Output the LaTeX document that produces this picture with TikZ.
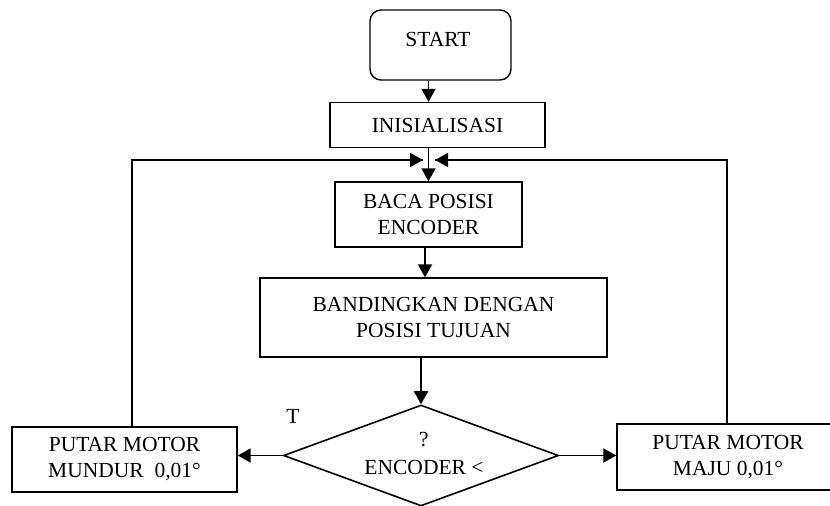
\documentclass[tikz,border=0pt]{standalone}
\usepackage{fontspec}
\setmainfont{Liberation Serif}
\usetikzlibrary{shapes.geometric,arrows.meta}
\begin{document}
\begin{tikzpicture}[x=1pt,y=-1pt,
  box/.style={draw,line width=1.4pt,inner sep=0pt,align=center,font=\fontsize{21.5}{26}\selectfont},
  txt/.style={inner sep=0pt,align=center,font=\fontsize{21.5}{26}\selectfont},
  arr/.style={line width=1.9pt,-{Triangle[length=13pt,width=14pt]}},
  ln/.style={line width=1.7pt}]
\useasboundingbox (0,0) rectangle (830,506);
\clip (0,0) rectangle (830,506);
\node[box,rounded corners=11pt,minimum width=141,minimum height=70] (start) at (440.5,45) {};
\node[txt] (starttxt) at (438,39) {START};
\node[box,minimum width=215,minimum height=45] (ini) at (437.5,125) {INISIALISASI};
\node[box,minimum width=187,minimum height=65] (baca) at (428.5,214.5) {BACA POSISI\\ENCODER};
\node[box,minimum width=347,minimum height=79] (band) at (433.5,317.5) {BANDINGKAN DENGAN\\POSISI TUJUAN};
\node[draw,diamond,line width=1.6pt,minimum width=275,minimum height=101,inner sep=0pt] (dec) at (421,455.5) {};
\node[txt] (q) at (424,440) {?};
\node[txt] (enc) at (424,467) {ENCODER <};
\node[txt] (t) at (293,416) {T};
\node[box,minimum width=225,minimum height=65] (left) at (124.5,459.5) {PUTAR MOTOR\\MUNDUR\ \ 0,01°};
\node[box,minimum width=230,minimum height=66] (right) at (732,457) {};
\node[txt] (righttxt) at (728,457) {PUTAR MOTOR\\MAJU 0,01°};
\coordinate (lj) at (132,160);
\coordinate (rj) at (727,160);
\coordinate (la) at (423,160);
\coordinate (ra) at (435,160);
\draw[arr] (start.south -| baca) -- (ini.north -| baca);
\draw[arr] (ini.south -| baca) -- (baca.north);
\draw[arr] (baca.south -| 425,0) -- (band.north -| 425,0);
\draw[arr] (band.south -| dec.north) -- (dec.north);
\draw[arr] (dec.west) -- (left.east |- dec.west);
\draw[arr] (dec.east) -- (right.west |- dec.east);
\draw[ln] (right.north -| rj) -- (rj) -- (ra);
\draw[ln] (left.north -| lj) -- (lj) -- (la);
\draw[arr] (lj) -- (la);
\draw[arr] (rj) -- (ra);
\end{tikzpicture}
\end{document}
